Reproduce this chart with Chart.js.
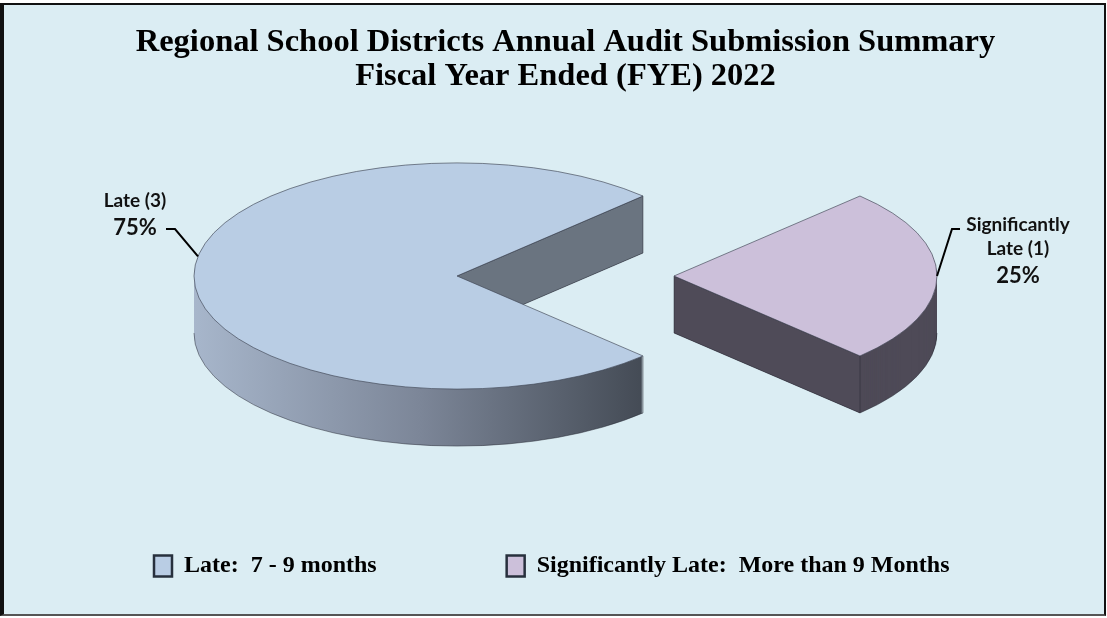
<!DOCTYPE html>
<html lang="en">
<head>
  <meta charset="UTF-8" />
  <meta name="viewport" content="width=device-width, initial-scale=1.0"/>
  <title>Regional School Districts Annual Audit Submission Summary</title>
  <style>
    body {
      margin: 0;
      background: #fff;
    }
    .frame {
      position: relative;
      width: 1107px;
      height: 618px;
    }
    .border {
      position: absolute;
      left: 0;
      top: 3px;
      width: 1106px;
      height: 613px;
      box-sizing: border-box;
      border: 2px solid #111;
      border-left-width: 4px;
      border-bottom-color: #555;
      background: #dbedf3;
    }
    canvas {
      position: absolute;
      left: 0;
      top: 0;
      display: block;
    }
  </style>
</head>
<body>
  <div class="frame">
    <div class="border"></div>
    <canvas id="graficaAuditoria" width="1107" height="618"></canvas>
  </div>

  <script src="https://cdn.jsdelivr.net/npm/chart.js"></script>
  <script>
    const titleLines = [
      'Regional School Districts Annual Audit Submission Summary',
      'Fiscal Year Ended (FYE) 2022'
    ];
    const categories = ['Late:  7 - 9 months', 'Significantly Late:  More than 9 Months'];
    const sliceNames = [['Late'], ['Significantly', 'Late']];
    const districtCounts = [3, 1];
    const sliceColors = ['#b9cde4', '#ccc0da'];

    const TILT = 0.43;   // vertical squash of the pie top
    const DEPTH = 57;    // thickness of the pie in px

    const wedge = (ctx, s, dz) => {
      ctx.beginPath();
      ctx.moveTo(s.cx, s.cy + dz);
      ctx.ellipse(s.cx, s.cy + dz, s.r, s.r * TILT, 0, s.start, s.end);
      ctx.closePath();
    };

    // parts of [start, end] that lie on the front half of the ellipse
    const frontRanges = (start, end) => {
      const out = [];
      for (let k = -1; k <= 2; k++) {
        const a = Math.max(start, k * 2 * Math.PI);
        const b = Math.min(end, k * 2 * Math.PI + Math.PI);
        if (b > a) out.push([a, b]);
      }
      return out;
    };

    const pie3d = {
      id: 'pie3d',
      beforeDatasetsDraw(chart, args, opts) {
        const ctx = chart.ctx;
        const arcs = chart.getDatasetMeta(0).data;
        const pivotY = arcs[0].y;
        const shiftX = -Math.max(...arcs.map(a => a.options.offset || 0)) / 2;

        const slices = arcs.map(arc => {
          const p = arc.getProps(['x', 'y', 'startAngle', 'endAngle', 'outerRadius'], true);
          const mid = (p.startAngle + p.endAngle) / 2;
          const off = arc.options.offset || 0;
          return {
            cx: p.x + shiftX + Math.cos(mid) * off,
            cy: pivotY + (p.y - pivotY + Math.sin(mid) * off) * TILT,
            start: p.startAngle,
            end: p.endAngle,
            mid,
            r: p.outerRadius,
            color: arc.options.backgroundColor
          };
        });
        chart.$slices3d = slices;

        ctx.save();
        slices.forEach((s, i) => {
          // side walls: stack the wedge downwards
          const side = opts.sides[i];
          let sideFill = side[0];
          if (side.length > 1) {
            const g = ctx.createLinearGradient(s.cx - s.r, 0, s.cx + s.r * 0.72, 0);
            side.forEach((c, k) => g.addColorStop(k / (side.length - 1), c));
            sideFill = g;
          }
          ctx.fillStyle = sideFill;
          for (let d = DEPTH; d >= 1; d--) {
            wedge(ctx, s, d);
            ctx.fill();
          }

          ctx.strokeStyle = 'rgba(35,38,48,0.6)';
          ctx.lineWidth = 0.8;

          // cut faces that look towards the viewer
          [[s.start, -Math.PI / 2], [s.end, Math.PI / 2]].forEach(([a, n]) => {
            const ex = s.cx + Math.cos(a) * s.r;
            const ey = s.cy + Math.sin(a) * s.r * TILT;
            if (Math.sin(a + n) > 0.01) {
              ctx.beginPath();
              ctx.moveTo(s.cx, s.cy);
              ctx.lineTo(ex, ey);
              ctx.lineTo(ex, ey + DEPTH);
              ctx.lineTo(s.cx, s.cy + DEPTH);
              ctx.closePath();
              ctx.fillStyle = opts.cuts[i];
              ctx.fill();
              ctx.stroke();
            } else if (Math.sin(a) > 0) {
              ctx.beginPath();
              ctx.moveTo(ex, ey);
              ctx.lineTo(ex, ey + DEPTH);
              ctx.stroke();
            }
          });

          // visible lower rim
          frontRanges(s.start, s.end).forEach(([a, b]) => {
            ctx.beginPath();
            ctx.ellipse(s.cx, s.cy + DEPTH, s.r, s.r * TILT, 0, a, b);
            ctx.stroke();
          });

          // top face
          wedge(ctx, s, 0);
          ctx.fillStyle = s.color;
          ctx.fill();
          ctx.strokeStyle = 'rgba(60,66,80,0.8)';
          ctx.stroke();
        });
        ctx.restore();
        return false;
      },
      afterDraw(chart, args, opts) {
        const ctx = chart.ctx;
        const slices = chart.$slices3d;
        if (!slices) return;
        const total = districtCounts.reduce((a, b) => a + b, 0);
        ctx.save();
        ctx.fillStyle = '#111';
        ctx.textAlign = 'center';
        ctx.textBaseline = 'middle';
        slices.forEach((s, i) => {
          const lab = opts.labels[i];
          const names = sliceNames[i].slice();
          names[names.length - 1] += ` (${districtCounts[i]})`;
          ctx.font = 'bold 19px Lato, "Open Sans", sans-serif';
          names.forEach((t, k) => ctx.fillText(t, lab.x, lab.y + k * 24));
          ctx.font = 'bold 22px Lato, "Open Sans", sans-serif';
          const pct = Math.round(districtCounts[i] / total * 100) + '%';
          ctx.fillText(pct, lab.x, lab.y + (names.length - 1) * 24 + 27);

          // leader line to the pie edge
          const a = s.mid + lab.anchorAngle * Math.PI / 180;
          const ax = s.cx + Math.cos(a) * s.r;
          const ay = s.cy + Math.sin(a) * s.r * TILT;
          ctx.beginPath();
          ctx.moveTo(lab.leader[0][0], lab.leader[0][1]);
          ctx.lineTo(lab.leader[1][0], lab.leader[1][1]);
          ctx.lineTo(ax, ay);
          ctx.strokeStyle = '#000';
          ctx.lineWidth = 2;
          ctx.stroke();
        });
        ctx.restore();
      }
    };

    const ctx = document.getElementById('graficaAuditoria').getContext('2d');

    new Chart(ctx, {
      type: 'pie',
      plugins: [pie3d],
      data: {
        labels: categories,
        datasets: [{
          data: districtCounts,
          backgroundColor: sliceColors,
          borderWidth: 0,
          offset: [0, 217]
        }]
      },
      options: {
        responsive: false,
        animation: false,
        devicePixelRatio: 1,
        radius: 263,
        rotation: 135,
        layout: {
          padding: { left: 24, right: 0, top: 0, bottom: 30 }
        },
        plugins: {
          title: {
            display: true,
            text: titleLines,
            color: '#000',
            font: { family: '"Liberation Serif", "Times New Roman", serif', weight: 'bold', size: 32.5, lineHeight: 1.046 },
            padding: { top: 26, bottom: 34 }
          },
          legend: {
            position: 'bottom',
            align: 'start',
            labels: {
              color: '#000',
              boxWidth: 18,
              boxHeight: 21,
              padding: 130,
              font: { family: '"Liberation Serif", "Times New Roman", serif', weight: 'bold', size: 24 },
              generateLabels: (chart) => {
                const items = Chart.overrides.doughnut.plugins.legend.labels.generateLabels(chart);
                return items.map(it => ({ ...it, strokeStyle: '#27303d', lineWidth: 2.5 }));
              }
            }
          },
          tooltip: { enabled: false },
          pie3d: {
            sides: [['#a7b6cb', '#7c8698', '#434a54'], ['#4e4a57']],
            cuts: ['#6a7480', '#4f4b58'],
            labels: [
              { x: 135, y: 201, leader: [[166, 229], [175, 229]], anchorAngle: 10 },
              { x: 1018, y: 225, leader: [[960, 229], [952, 229]], anchorAngle: 0 }
            ]
          }
        }
      }
    });
  </script>
</body>
</html>
